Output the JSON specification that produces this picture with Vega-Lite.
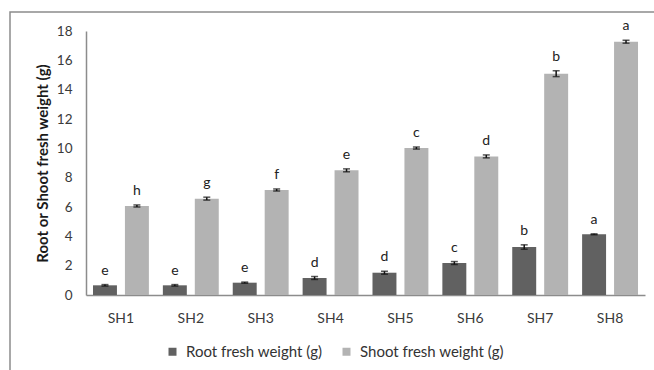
{
  "$schema": "https://vega.github.io/schema/vega-lite/v6.json",
  "autosize": {"type": "none"},
  "padding": {"left": 10, "top": 12, "right": 0, "bottom": 0},
  "width": 650,
  "height": 365,
  "background": "white",
  "config": {
    "font": "Lato",
    "view": {"stroke": "#8c8c8c", "strokeWidth": 1.5},
    "axis": {"labelFont": "Lato", "titleFont": "Lato", "labelColor": "#3a3a3a", "titleColor": "#1a1a1a"}
  },
  "data": {
    "values": [
      {"group": "SH1", "part": "Root fresh weight (g)", "mean": 0.66, "lo": 0.61, "hi": 0.71, "letter": "e"},
      {"group": "SH1", "part": "Shoot fresh weight (g)", "mean": 6.07, "lo": 6.0, "hi": 6.14, "letter": "h"},
      {"group": "SH2", "part": "Root fresh weight (g)", "mean": 0.66, "lo": 0.61, "hi": 0.71, "letter": "e"},
      {"group": "SH2", "part": "Shoot fresh weight (g)", "mean": 6.57, "lo": 6.47, "hi": 6.67, "letter": "g"},
      {"group": "SH3", "part": "Root fresh weight (g)", "mean": 0.84, "lo": 0.8, "hi": 0.88, "letter": "e"},
      {"group": "SH3", "part": "Shoot fresh weight (g)", "mean": 7.16, "lo": 7.09, "hi": 7.23, "letter": "f"},
      {"group": "SH4", "part": "Root fresh weight (g)", "mean": 1.16, "lo": 1.06, "hi": 1.26, "letter": "d"},
      {"group": "SH4", "part": "Shoot fresh weight (g)", "mean": 8.5, "lo": 8.4, "hi": 8.6, "letter": "e"},
      {"group": "SH5", "part": "Root fresh weight (g)", "mean": 1.52, "lo": 1.42, "hi": 1.62, "letter": "d"},
      {"group": "SH5", "part": "Shoot fresh weight (g)", "mean": 10.02, "lo": 9.95, "hi": 10.09, "letter": "c"},
      {"group": "SH6", "part": "Root fresh weight (g)", "mean": 2.18, "lo": 2.08, "hi": 2.28, "letter": "c"},
      {"group": "SH6", "part": "Shoot fresh weight (g)", "mean": 9.45, "lo": 9.35, "hi": 9.55, "letter": "d"},
      {"group": "SH7", "part": "Root fresh weight (g)", "mean": 3.27, "lo": 3.12, "hi": 3.42, "letter": "b"},
      {"group": "SH7", "part": "Shoot fresh weight (g)", "mean": 15.09, "lo": 14.89, "hi": 15.29, "letter": "b"},
      {"group": "SH8", "part": "Root fresh weight (g)", "mean": 4.14, "lo": 4.11, "hi": 4.17, "letter": "a"},
      {"group": "SH8", "part": "Shoot fresh weight (g)", "mean": 17.27, "lo": 17.17, "hi": 17.37, "letter": "a"}
    ]
  },
  "encoding": {
    "x": {
      "field": "group", "type": "nominal",
      "scale": {"range": [76, 635], "paddingInner": 0.2, "paddingOuter": 0.1},
      "axis": {
        "title": null, "orient": "bottom", "offset": -82, "labelAngle": 0,
        "ticks": false, "labelPadding": 16, "labelFontSize": 14,
        "domainColor": "#8c8c8c", "domainWidth": 1.5
      }
    },
    "xOffset": {
      "field": "part", "type": "nominal",
      "scale": {"paddingInner": 0.25, "paddingOuter": 0}
    }
  },
  "layer": [
    {
      "mark": {"type": "bar"},
      "encoding": {
        "y": {
          "field": "mean", "type": "quantitative",
          "scale": {"domain": [0, 18], "range": [283, 19], "nice": false, "zero": true},
          "axis": {
            "title": "Root or Shoot fresh weight (g)",
            "titleFontWeight": "bold", "titleFontSize": 15,
            "offset": -76, "values": [0, 2, 4, 6, 8, 10, 12, 14, 16, 18],
            "ticks": false, "grid": false, "labelPadding": 14, "labelFontSize": 13.5,
            "titlePadding": 6,
            "domainColor": "#8c8c8c", "domainWidth": 1.5
          }
        },
        "color": {
          "field": "part", "type": "nominal",
          "scale": {"domain": ["Root fresh weight (g)", "Shoot fresh weight (g)"], "range": ["#616161", "#b3b3b3"]},
          "legend": {
            "title": null, "orient": "none", "direction": "horizontal",
            "legendX": 155, "legendY": 332,
            "symbolType": "square", "symbolSize": 64, "symbolStrokeWidth": 0,
            "labelFontSize": 15, "labelColor": "#333", "labelOffset": 6,
            "columnPadding": 16, "padding": 0
          }
        }
      }
    },
    {
      "mark": {"type": "rule", "color": "#111", "strokeWidth": 1.5},
      "encoding": {
        "y": {"field": "lo", "type": "quantitative"},
        "y2": {"field": "hi"}
      }
    },
    {
      "mark": {"type": "tick", "color": "#111", "size": 7, "thickness": 1.5},
      "encoding": {"y": {"field": "lo", "type": "quantitative"}}
    },
    {
      "mark": {"type": "tick", "color": "#111", "size": 7, "thickness": 1.5},
      "encoding": {"y": {"field": "hi", "type": "quantitative"}}
    },
    {
      "mark": {"type": "text", "dy": -10, "baseline": "alphabetic", "fontSize": 14, "color": "#222"},
      "encoding": {
        "y": {"field": "hi", "type": "quantitative"},
        "text": {"field": "letter"}
      }
    }
  ]
}
